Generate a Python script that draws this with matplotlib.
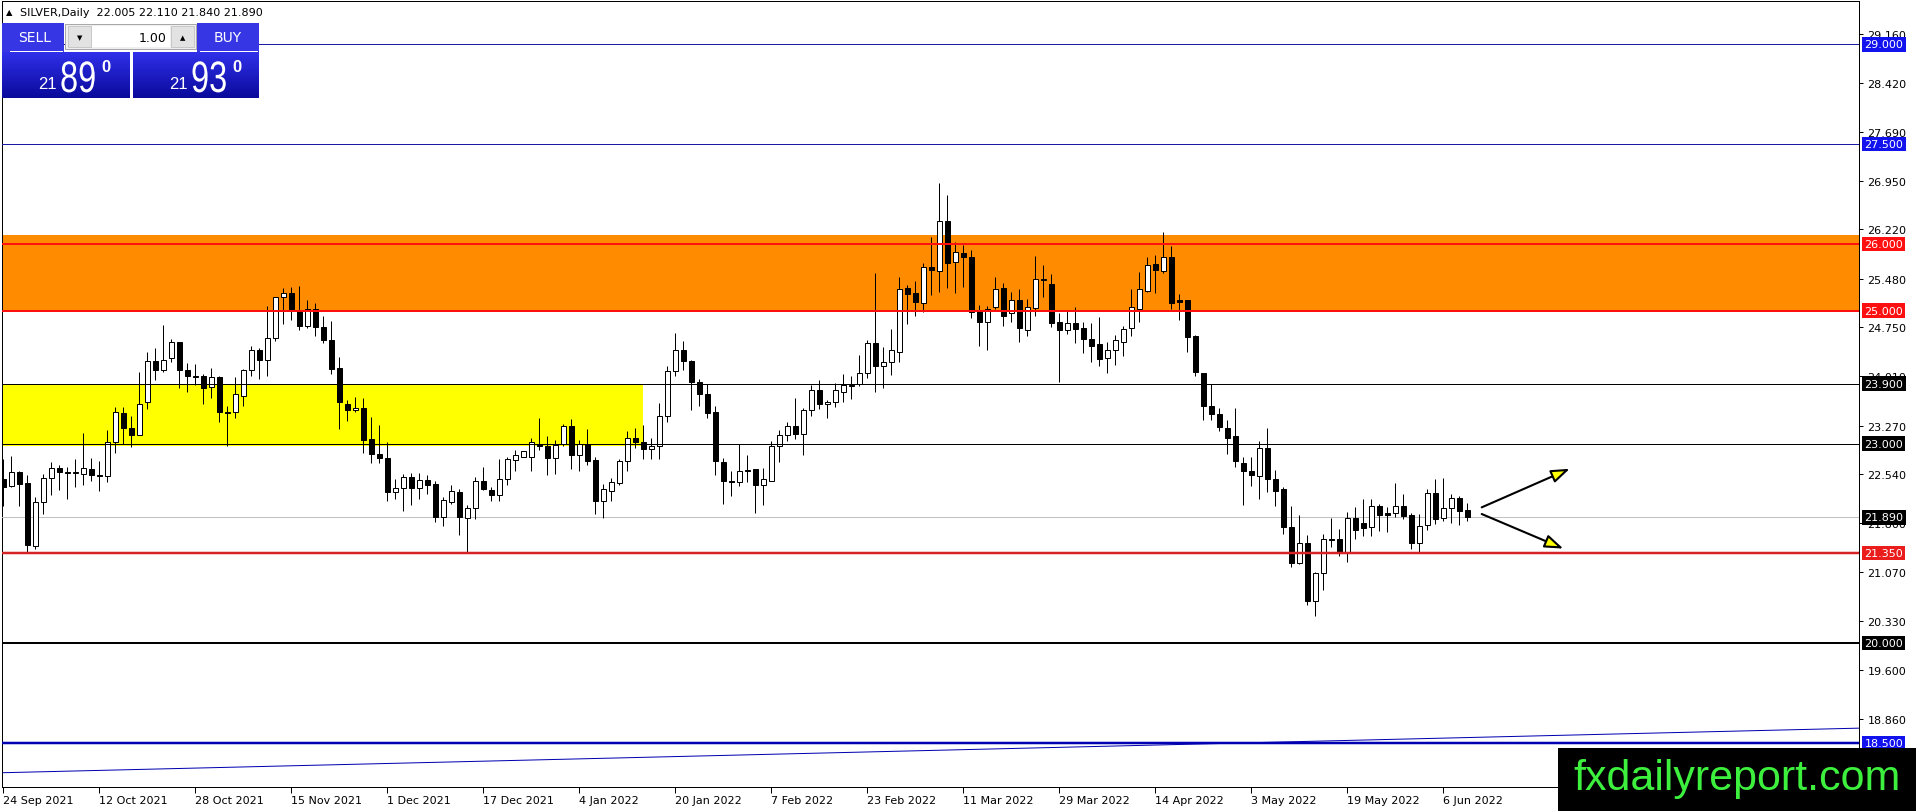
import numpy as np
import matplotlib
matplotlib.use("Agg")
import matplotlib.pyplot as plt
import matplotlib.transforms as mtransforms
from matplotlib.patches import Rectangle, PathPatch
from matplotlib.colors import LinearSegmentedColormap
from matplotlib.textpath import TextPath
from matplotlib.font_manager import FontProperties

# daily candles, 24 Sep 2021 .. 9 Jun 2022
opens = [22.47, 22.36, 22.57, 22.40, 21.46, 22.12, 22.48, 22.63, 22.57, 22.56,
         22.54, 22.62, 22.53, 22.51, 23.03, 23.46, 23.24, 23.13, 23.62, 24.24,
         24.10, 24.28, 24.52, 24.11, 24.01, 24.02, 23.85, 24.00, 23.48, 23.47,
         23.72, 24.11, 24.41, 24.25, 24.58, 25.20, 25.26, 25.01, 24.77, 25.02,
         24.75, 24.56, 24.13, 23.60, 23.51, 23.54, 23.07, 22.84, 22.78, 22.27,
         22.33, 22.49, 22.33, 22.45, 22.39, 21.90, 22.12, 22.27, 21.88, 22.03,
         22.43, 22.30, 22.22, 22.47, 22.75, 22.80, 22.80, 23.00, 22.97, 22.78,
         22.99, 23.26, 22.83, 23.00, 22.75, 22.13, 22.29, 22.40, 22.73, 23.09,
         23.03, 22.91, 22.96, 23.42, 24.09, 24.41, 24.24, 23.93, 23.75, 23.48,
         22.72, 22.44, 22.42, 22.60, 22.61, 22.37, 22.44, 22.96, 23.13, 23.26,
         23.14, 23.50, 23.80, 23.60, 23.62, 23.78, 23.86, 23.90, 24.06, 24.51,
         24.17, 24.23, 24.38, 25.34, 25.26, 25.12, 25.65, 25.60, 26.34, 25.73,
         25.86, 25.81, 25.00, 24.83, 25.05, 25.34, 24.96, 25.16, 24.71, 25.04,
         25.48, 25.40, 24.82, 24.71, 24.81, 24.74, 24.57, 24.50, 24.28, 24.40,
         24.53, 24.73, 25.02, 25.30, 25.70, 25.60, 25.80, 25.16, 25.16, 24.62,
         24.06, 23.56, 23.45, 23.24, 23.11, 22.70, 22.58, 22.51, 22.93, 22.47,
         22.32, 21.74, 21.20, 21.51, 20.63, 21.05, 21.57, 21.57, 21.36, 21.88,
         21.80, 21.74, 22.06, 21.95, 21.95, 22.06, 21.93, 21.50, 21.77, 22.25,
         21.88, 22.03, 22.18, 22.005]
highs = [22.77, 22.81, 22.58, 22.52, 22.19, 22.54, 22.72, 22.67, 22.64, 22.77,
         23.16, 22.78, 22.73, 23.20, 23.55, 23.55, 23.41, 24.08, 24.38, 24.43,
         24.78, 24.57, 24.53, 24.21, 24.20, 24.05, 24.14, 24.02, 23.57, 24.00,
         24.12, 24.46, 24.44, 25.07, 25.21, 25.34, 25.35, 25.37, 25.16, 25.11,
         24.92, 24.84, 24.30, 23.65, 23.70, 23.69, 23.40, 23.28, 23.02, 22.47,
         22.54, 22.56, 22.56, 22.53, 22.43, 22.19, 22.37, 22.31, 22.07, 22.49,
         22.64, 22.34, 22.76, 22.79, 22.90, 22.89, 23.08, 23.39, 23.11, 23.06,
         23.30, 23.37, 23.06, 23.22, 22.79, 22.39, 22.48, 22.76, 23.19, 23.23,
         23.28, 23.08, 23.61, 24.17, 24.66, 24.54, 24.26, 23.97, 23.89, 23.56,
         22.78, 22.59, 23.00, 22.83, 22.62, 22.63, 23.04, 23.20, 23.32, 23.68,
         23.54, 23.88, 23.96, 23.66, 23.91, 24.05, 24.01, 24.33, 24.55, 25.57,
         24.45, 24.72, 25.51, 25.38, 25.45, 25.71, 26.10, 26.92, 26.74, 26.03,
         25.98, 25.91, 25.08, 25.07, 25.51, 25.42, 25.28, 25.33, 25.17, 25.82,
         25.68, 25.55, 24.97, 25.00, 25.05, 24.82, 24.81, 24.90, 24.53, 24.63,
         24.77, 25.33, 25.58, 25.80, 25.83, 26.18, 25.97, 25.25, 25.16, 24.63,
         24.06, 23.90, 23.53, 23.36, 23.53, 22.79, 22.79, 23.04, 23.23, 22.60,
         22.34, 22.06, 21.93, 21.62, 21.07, 21.64, 21.88, 21.71, 21.97, 22.04,
         22.16, 22.17, 22.09, 22.04, 22.40, 22.24, 21.96, 21.94, 22.31, 22.46,
         22.48, 22.24, 22.21, 22.11]
lows = [22.06, 22.34, 22.06, 21.36, 21.42, 21.94, 22.23, 22.30, 22.16, 22.34,
        22.38, 22.44, 22.29, 22.42, 22.85, 23.00, 22.95, 23.13, 23.52, 23.95,
        24.07, 24.23, 23.83, 23.78, 23.88, 23.59, 23.69, 23.33, 22.97, 23.39,
        23.57, 24.01, 23.97, 24.01, 24.54, 24.79, 24.85, 24.71, 24.74, 24.61,
        24.51, 24.05, 23.22, 23.34, 23.47, 22.85, 22.70, 22.70, 22.13, 22.16,
        21.98, 22.07, 22.17, 22.24, 21.82, 21.76, 22.09, 21.63, 21.36, 21.87,
        22.30, 22.14, 22.13, 22.38, 22.59, 22.80, 22.59, 22.90, 22.53, 22.54,
        22.97, 22.62, 22.59, 22.67, 21.94, 21.88, 22.13, 22.37, 22.59, 22.94,
        22.77, 22.77, 22.76, 23.33, 24.02, 24.11, 23.51, 23.56, 23.38, 22.52,
        22.09, 22.21, 22.36, 22.42, 21.96, 22.07, 22.44, 22.72, 23.04, 23.07,
        22.82, 23.42, 23.52, 23.38, 23.55, 23.62, 23.67, 23.87, 23.98, 23.78,
        23.83, 24.03, 24.23, 24.80, 24.92, 24.98, 25.23, 25.28, 25.34, 25.26,
        25.35, 24.88, 24.47, 24.41, 25.02, 24.77, 24.83, 24.53, 24.62, 24.91,
        25.21, 24.75, 23.92, 24.65, 24.51, 24.36, 24.23, 24.17, 24.06, 24.18,
        24.32, 24.62, 24.82, 25.28, 25.26, 25.56, 25.03, 24.85, 24.37, 24.02,
        23.36, 23.36, 23.19, 22.84, 22.64, 22.07, 22.36, 22.16, 22.27, 22.06,
        21.64, 21.14, 21.19, 20.57, 20.40, 20.79, 21.45, 21.31, 21.22, 21.56,
        21.61, 21.61, 21.69, 21.67, 21.89, 21.86, 21.41, 21.36, 21.70, 21.79,
        21.84, 21.80, 21.77, 21.84]
closes = [22.34, 22.57, 22.39, 21.47, 22.12, 22.48, 22.63, 22.57, 22.56, 22.57,
          22.63, 22.52, 22.51, 23.03, 23.47, 23.24, 23.13, 23.60, 24.24, 24.10,
          24.25, 24.52, 24.10, 24.01, 24.00, 23.83, 24.00, 23.47, 23.46, 23.74,
          24.11, 24.40, 24.25, 24.58, 25.20, 25.27, 25.02, 24.77, 25.02, 24.75,
          24.56, 24.12, 23.62, 23.50, 23.54, 23.05, 22.84, 22.78, 22.27, 22.33,
          22.49, 22.33, 22.45, 22.38, 21.90, 22.15, 22.28, 21.89, 22.03, 22.43,
          22.31, 22.22, 22.47, 22.77, 22.83, 22.88, 23.02, 22.97, 22.78, 22.98,
          23.26, 22.83, 23.00, 22.74, 22.13, 22.32, 22.42, 22.73, 23.09, 23.03,
          22.91, 22.96, 23.42, 24.09, 24.41, 24.24, 23.93, 23.75, 23.46, 22.73,
          22.43, 22.42, 22.59, 22.58, 22.38, 22.46, 22.96, 23.13, 23.27, 23.14,
          23.50, 23.80, 23.60, 23.62, 23.80, 23.88, 23.88, 24.06, 24.51, 24.17,
          24.23, 24.41, 25.32, 25.25, 25.13, 25.65, 25.61, 26.34, 25.71, 25.88,
          25.81, 24.98, 24.83, 25.03, 25.32, 24.91, 25.16, 24.73, 25.06, 25.48,
          25.46, 24.81, 24.71, 24.81, 24.72, 24.57, 24.47, 24.27, 24.41, 24.56,
          24.72, 25.05, 25.32, 25.68, 25.61, 25.81, 25.12, 25.13, 24.60, 24.08,
          23.57, 23.45, 23.25, 23.09, 22.73, 22.59, 22.52, 22.93, 22.46, 22.29,
          21.74, 21.21, 21.51, 20.63, 21.05, 21.57, 21.55, 21.36, 21.88, 21.70,
          21.73, 22.06, 21.93, 21.93, 22.06, 21.91, 21.50, 21.76, 22.25, 21.86,
          22.03, 22.18, 21.99, 21.89]

date_labels = ["24 Sep 2021", "12 Oct 2021", "28 Oct 2021", "15 Nov 2021",
               "1 Dec 2021", "17 Dec 2021", "4 Jan 2022", "20 Jan 2022",
               "7 Feb 2022", "23 Feb 2022", "11 Mar 2022", "29 Mar 2022",
               "14 Apr 2022", "3 May 2022", "19 May 2022", "6 Jun 2022"]
label_every = 12

price_ticks = [29.160, 28.420, 27.690, 26.950, 26.220, 25.480, 24.750, 24.010,
               23.270, 22.540, 21.800, 21.070, 20.330, 19.600, 18.860]

levels = [29.0, 27.5, 26.0, 25.0, 23.9, 23.0, 21.35, 20.0, 18.5]
bid = 21.89

resistance_zone = [25.0, 26.135]
support_zone = [22.97, 23.90]
support_zone_end = 79.96

trend_x = [0, 232]
trend_y = [18.05, 18.72]

arrow_from = [(184.8, 22.04), (184.8, 21.94)]
arrow_to = [(195.8, 22.62), (195.0, 21.42)]

header = "SILVER,Daily  22.005 22.110 21.840 21.890"
sell_price = ["21", "89", "0"]
buy_price = ["21", "93", "0"]
lot = "1.00"

# ---- styles ----
PX = 0.72  # one pixel in points at dpi 100
level_style = {
    29.0: ("#1a1aa6", 1, "#1212ee"),
    27.5: ("#1a1aa6", 1, "#1212ee"),
    26.0: ("#ff1010", 2, "#ff1010"),
    25.0: ("#ff1010", 2, "#ff1010"),
    23.9: ("black", 1, "black"),
    23.0: ("black", 1, "black"),
    21.35: ("#d42424", 2.5, "#ea1c1c"),
    20.0: ("black", 2, "black"),
    18.5: ("#0000b0", 2.5, "#1212ee"),
}

W, H = 1916, 812
plt.rcParams["font.family"] = ["DejaVu Sans"]
plt.rcParams["font.size"] = 8

fig = plt.figure(figsize=(W / 100, H / 100), dpi=100, facecolor="white")
ax = fig.add_axes([2 / W, 24 / H, 1857 / W, 786 / H])
ax.set_xlim(-0.16, 231.96)
ax.set_ylim(17.835, 29.654)

for s in ax.spines.values():
    s.set_linewidth(PX)
    s.set_color("black")

# zones
ax.axhspan(resistance_zone[0], resistance_zone[1], color="#ff8c00", lw=0, zorder=1)
ax.add_patch(Rectangle((-1, support_zone[0]), support_zone_end + 1,
                       support_zone[1] - support_zone[0], color="#ffff00", lw=0, zorder=1))

# candles
x = np.arange(len(opens))
o = np.array(opens)
c = np.array(closes)
ax.vlines(x, lows, highs, color="black", lw=PX, zorder=4)
body_bottom = np.minimum(o, c)
body_height = np.maximum(np.abs(c - o), 0.002)
face = ["white" if cc >= oo else "black" for oo, cc in zip(o, c)]
ax.bar(x, body_height, bottom=body_bottom, width=0.62, color=face,
       edgecolor="black", linewidth=PX, zorder=5)

# bid line and levels
ax.axhline(bid, color="#c0c0c0", lw=PX, zorder=3)
for lv in levels:
    col, w, _ = level_style[lv]
    ax.axhline(lv, color=col, lw=w * PX, zorder=6)

ax.plot(trend_x, trend_y, color="#0000b0", lw=PX, zorder=6)

for p0, p1 in zip(arrow_from, arrow_to):
    ax.annotate("", xy=p1, xytext=p0,
                arrowprops=dict(arrowstyle="-|>,head_length=1.4,head_width=0.5",
                                fc="#ffff00", ec="black", lw=1.5,
                                shrinkA=0, shrinkB=0), zorder=7)

# axes ticks
ax.yaxis.tick_right()
ax.set_yticks(price_ticks)
ax.set_yticklabels([f"{t:.3f}" for t in price_ticks])
ax.tick_params(axis="y", length=3, width=PX, pad=3, labelsize=8, colors="black")
ax.set_xticks(x[::label_every][:len(date_labels)])
ax.set_xticklabels(date_labels)
ax.tick_params(axis="x", length=4, width=PX, pad=2, labelsize=8)
for t in ax.get_xticklabels():
    t.set_horizontalalignment("left")

# level price boxes on the scale
trans = mtransforms.blended_transform_factory(ax.transAxes, ax.transData)
for lv in levels + [bid]:
    bg = "black" if lv == bid else level_style[lv][2]
    ax.text(1 + 5.5 / 1857, lv, f"{lv:.3f}", transform=trans, ha="left",
            va="center", color="white", fontsize=8, clip_on=False, zorder=10,
            bbox=dict(boxstyle="square,pad=0.2", fc=bg, ec="none"))

# ---- overlay: header, trade panel, watermark (pixel coords, y down) ----
ov = fig.add_axes([0, 0, 1, 1], zorder=20)
ov.patch.set_alpha(0)

ov.text(6, 13, "\u25B2", fontsize=6, va="center", ha="left", color="black")
ov.text(20, 13, header, fontsize=8, va="center", ha="left", color="black")

btn = "#3636e4"
ov.add_patch(Rectangle((2, 24), 62, 29, fc=btn, ec="none"))
ov.add_patch(Rectangle((197, 24), 62, 29, fc=btn, ec="none"))
ov.plot([10, 62], [52, 52], color="white", lw=PX)
ov.plot([200, 257], [52, 52], color="white", lw=PX)
ov.text(35, 38, "SELL", color="white", fontsize=10, ha="center", va="center")
ov.text(228, 38, "BUY", color="white", fontsize=10, ha="center", va="center")

ov.add_patch(Rectangle((65, 25), 131, 25, fc="#efefef", ec="#a8a8a8", lw=PX))
ov.add_patch(Rectangle((68, 27), 23, 21, fc="#e2e2e2", ec="#c8c8c8", lw=PX))
ov.add_patch(Rectangle((92, 27), 78, 21, fc="white", ec="none"))
ov.add_patch(Rectangle((171, 27), 23, 21, fc="#e2e2e2", ec="#c8c8c8", lw=PX))
ov.text(79.5, 38, "\u25BC", fontsize=5, ha="center", va="center")
ov.text(182.5, 38, "\u25B2", fontsize=5, ha="center", va="center")
ov.text(167, 38, lot, fontsize=9, ha="right", va="center")

grad = np.linspace(0, 1, 64).reshape(-1, 1)
cmap = LinearSegmentedColormap.from_list("panel", ["#3030ea", "#0a0a9c"])
big_font = FontProperties(family="Liberation Sans")
for (x0, x1), (small, big, sup) in zip([(2, 130), (133, 259)], [sell_price, buy_price]):
    ov.imshow(grad, extent=(x0, x1, 99, 53), cmap=cmap, aspect="auto", origin="upper")
    ov.text(x0 + 36, 89, small, color="white", fontsize=12, ha="left", va="baseline",
            family=["Liberation Sans"])
    # big quote digits are a condensed face: draw the glyph path squeezed sideways
    tp = TextPath((0, 0), big, size=44, prop=big_font)
    squeeze = mtransforms.Affine2D().scale(0.74, -1).translate(x0 + 58, 93)
    ov.add_patch(PathPatch(tp, transform=squeeze + ov.transData, fc="white", ec="none"))
    ov.text(x0 + 99, 72, sup, color="white", fontsize=12, ha="left", va="baseline",
            family=["Liberation Sans"], weight="bold")

ov.add_patch(Rectangle((1558, 749), 358, 63, fc="black", ec="none"))
ov.text(1737, 790, "fxdailyreport.com", color="#3ef03e", fontsize=31,
        ha="center", va="baseline", family=["Liberation Sans"])

ov.set_xlim(0, W)
ov.set_ylim(H, 0)
ov.axis("off")

fig.savefig("out.png", dpi=100, facecolor="white")
